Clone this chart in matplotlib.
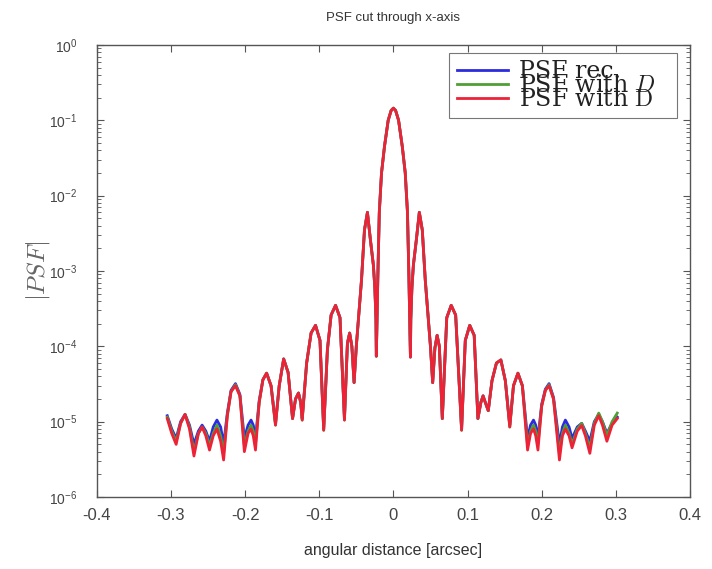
import matplotlib
matplotlib.use("Agg")
import matplotlib.pyplot as plt
from matplotlib.ticker import LogLocator, NullFormatter, FixedLocator

# ---- data ----
x = [-0.305, -0.299, -0.293, -0.287, -0.281, -0.275, -0.269, -0.263, -0.258, -0.253,
     -0.248, -0.243, -0.238, -0.233, -0.229, -0.224, -0.219, -0.213, -0.207, -0.201,
     -0.196, -0.192, -0.189, -0.186, -0.181, -0.176, -0.171, -0.165, -0.159, -0.154,
     -0.148, -0.142, -0.136, -0.132, -0.128, -0.125, -0.123, -0.117, -0.111, -0.105,
     -0.099, -0.094, -0.089, -0.084, -0.078, -0.072, -0.066, -0.062, -0.059, -0.056,
     -0.053, -0.050, -0.043, -0.039, -0.035, -0.031, -0.027, -0.025, -0.0235, -0.023,
     -0.021, -0.019, -0.016, -0.012, -0.007, -0.003, 0.0,
     0.003, 0.007, 0.012, 0.016, 0.019, 0.021, 0.023, 0.0235, 0.025, 0.027,
     0.031, 0.035, 0.039, 0.043, 0.050, 0.053, 0.056, 0.059, 0.062, 0.066,
     0.072, 0.078, 0.084, 0.092, 0.097, 0.103, 0.109, 0.114, 0.118, 0.121,
     0.124, 0.128, 0.133, 0.139, 0.145, 0.151, 0.157, 0.162, 0.168, 0.174,
     0.181, 0.185, 0.189, 0.192, 0.195, 0.200, 0.205, 0.210, 0.216, 0.224,
     0.228, 0.232, 0.237, 0.241, 0.248, 0.254, 0.259, 0.265, 0.271, 0.277,
     0.282, 0.288, 0.295, 0.302]

psf_rec = [1.2e-5, 8.0e-6, 6.0e-6, 1.0e-5, 1.25e-5, 9.0e-6, 5.0e-6, 7.5e-6, 9.0e-6, 7.5e-6,
           5.5e-6, 8.5e-6, 1.05e-5, 8.5e-6, 5.0e-6, 1.3e-5, 2.6e-5, 3.2e-5, 2.3e-5, 6.0e-6,
           9.0e-6, 1.05e-5, 9.0e-6, 6.0e-6, 1.9e-5, 3.6e-5, 4.4e-5, 3.0e-5, 9.5e-6, 3.0e-5,
           6.8e-5, 4.5e-5, 1.1e-5, 2.0e-5, 2.4e-5, 1.8e-5, 1.1e-5, 6.0e-5, 1.5e-4, 1.9e-4,
           1.2e-4, 8.0e-6, 9.0e-5, 2.6e-4, 3.5e-4, 2.4e-4, 1.1e-5, 1.1e-4, 1.5e-4, 1.0e-4,
           3.3e-5, 1.0e-4, 7.6e-4, 3.5e-3, 6.0e-3, 2.6e-3, 1.2e-3, 6.0e-4, 2.3e-4, 7.4e-5,
           8.0e-4, 6.0e-3, 2.0e-2, 4.5e-2, 1.0e-1, 1.35e-1, 1.45e-1,
           1.35e-1, 1.0e-1, 4.5e-2, 2.0e-2, 6.0e-3, 8.0e-4, 7.2e-5, 2.3e-4, 6.0e-4, 1.2e-3,
           2.6e-3, 6.0e-3, 3.5e-3, 7.6e-4, 1.0e-4, 3.3e-5, 9.5e-5, 1.4e-4, 1.0e-4, 1.1e-5,
           2.4e-4, 3.5e-4, 2.6e-4, 8.0e-6, 1.2e-4, 1.9e-4, 1.4e-4, 1.1e-5, 1.8e-5, 2.2e-5,
           1.8e-5, 1.4e-5, 3.5e-5, 6.0e-5, 6.6e-5, 3.5e-5, 9.0e-6, 3.0e-5, 4.4e-5, 3.0e-5,
           6.0e-6, 9.0e-6, 1.05e-5, 9.0e-6, 6.0e-6, 1.7e-5, 2.7e-5, 3.2e-5, 2.1e-5, 5.0e-6,
           8.5e-6, 1.05e-5, 8.5e-6, 6.0e-6, 8.5e-6, 9.5e-6, 7.5e-6, 5.5e-6, 1.0e-5, 1.25e-5,
           1.0e-5, 7.0e-6, 9.5e-6, 1.15e-5]

psf_D_it = [1.15e-5, 7.5e-6, 5.5e-6, 9.5e-6, 1.25e-5, 8.5e-6, 4.0e-6, 7.0e-6, 8.5e-6, 7.0e-6,
            4.8e-6, 7.0e-6, 9.0e-6, 6.5e-6, 3.8e-6, 1.2e-5, 2.5e-5, 3.1e-5, 2.2e-5, 4.8e-6,
            7.5e-6, 9.0e-6, 7.5e-6, 5.0e-6, 1.8e-5, 3.6e-5, 4.4e-5, 3.0e-5, 9.0e-6, 3.0e-5,
            6.8e-5, 4.5e-5, 1.1e-5, 2.0e-5, 2.4e-5, 1.8e-5, 1.05e-5, 6.0e-5, 1.5e-4, 1.9e-4,
            1.2e-4, 7.7e-6, 9.0e-5, 2.6e-4, 3.5e-4, 2.4e-4, 1.05e-5, 1.1e-4, 1.5e-4, 1.0e-4,
            3.3e-5, 1.0e-4, 7.6e-4, 3.5e-3, 6.0e-3, 2.6e-3, 1.2e-3, 6.0e-4, 2.3e-4, 7.4e-5,
            8.0e-4, 6.0e-3, 2.0e-2, 4.5e-2, 1.0e-1, 1.35e-1, 1.45e-1,
            1.35e-1, 1.0e-1, 4.5e-2, 2.0e-2, 6.0e-3, 8.0e-4, 7.2e-5, 2.3e-4, 6.0e-4, 1.2e-3,
            2.6e-3, 6.0e-3, 3.5e-3, 7.6e-4, 1.0e-4, 3.3e-5, 9.5e-5, 1.4e-4, 1.0e-4, 1.1e-5,
            2.4e-4, 3.5e-4, 2.6e-4, 7.7e-6, 1.2e-4, 1.9e-4, 1.4e-4, 1.1e-5, 1.8e-5, 2.2e-5,
            1.8e-5, 1.4e-5, 3.5e-5, 6.0e-5, 6.6e-5, 3.5e-5, 8.5e-6, 3.0e-5, 4.4e-5, 3.0e-5,
            4.8e-6, 7.5e-6, 9.0e-6, 7.5e-6, 5.0e-6, 1.6e-5, 2.6e-5, 3.1e-5, 2.0e-5, 3.8e-6,
            7.0e-6, 9.0e-6, 7.0e-6, 5.0e-6, 8.0e-6, 9.5e-6, 7.0e-6, 4.5e-6, 9.5e-6, 1.3e-5,
            1.0e-5, 6.5e-6, 1.0e-5, 1.3e-5]

psf_D = [1.1e-5, 7.0e-6, 5.0e-6, 9.5e-6, 1.25e-5, 8.0e-6, 3.5e-6, 7.0e-6, 8.5e-6, 6.5e-6,
         4.2e-6, 6.5e-6, 8.0e-6, 5.5e-6, 3.1e-6, 1.2e-5, 2.5e-5, 3.0e-5, 2.2e-5, 4.0e-6,
         7.0e-6, 8.0e-6, 6.5e-6, 4.2e-6, 1.8e-5, 3.6e-5, 4.4e-5, 3.0e-5, 9.0e-6, 3.0e-5,
         6.8e-5, 4.5e-5, 1.1e-5, 2.0e-5, 2.4e-5, 1.8e-5, 1.05e-5, 6.0e-5, 1.5e-4, 1.9e-4,
         1.2e-4, 7.7e-6, 9.0e-5, 2.6e-4, 3.5e-4, 2.4e-4, 1.05e-5, 1.1e-4, 1.5e-4, 1.0e-4,
         3.3e-5, 1.0e-4, 7.6e-4, 3.5e-3, 6.0e-3, 2.6e-3, 1.2e-3, 6.0e-4, 2.3e-4, 7.4e-5,
         8.0e-4, 6.0e-3, 2.0e-2, 4.5e-2, 1.0e-1, 1.35e-1, 1.45e-1,
         1.35e-1, 1.0e-1, 4.5e-2, 2.0e-2, 6.0e-3, 8.0e-4, 7.2e-5, 2.3e-4, 6.0e-4, 1.2e-3,
         2.6e-3, 6.0e-3, 3.5e-3, 7.6e-4, 1.0e-4, 3.3e-5, 9.5e-5, 1.4e-4, 1.0e-4, 1.1e-5,
         2.4e-4, 3.5e-4, 2.6e-4, 7.7e-6, 1.2e-4, 1.9e-4, 1.4e-4, 1.1e-5, 1.8e-5, 2.2e-5,
         1.8e-5, 1.4e-5, 3.5e-5, 6.0e-5, 6.6e-5, 3.5e-5, 8.5e-6, 3.0e-5, 4.4e-5, 3.0e-5,
         4.2e-6, 7.0e-6, 8.0e-6, 6.5e-6, 4.2e-6, 1.6e-5, 2.6e-5, 3.0e-5, 2.0e-5, 3.1e-6,
         6.5e-6, 8.0e-6, 6.5e-6, 4.5e-6, 7.5e-6, 8.9e-6, 6.5e-6, 3.8e-6, 9.0e-6, 1.2e-5,
         9.0e-6, 5.5e-6, 9.0e-6, 1.1e-5]

series_labels = ["PSF rec.", r"PSF with $\mathit{D}$", r"PSF with $\mathrm{D}$"]
series_colors = ["#2b2be0", "#4f9f35", "#ee2236"]
title = "PSF cut through x-axis"
xlabel = "angular distance [arcsec]"
ylabel = r"$|PSF|$"
xticks = [-0.4, -0.3, -0.2, -0.1, 0, 0.1, 0.2, 0.3, 0.4]
xticklabels = ["-0.4", "-0.3", "-0.2", "-0.1", "0", "0.1", "0.2", "0.3", "0.4"]

# ---- figure ----
plt.rcParams['font.family'] = ['Liberation Sans', 'DejaVu Sans']
plt.rcParams['mathtext.fontset'] = 'cm'
fig = plt.figure(figsize=(7.12, 5.69), dpi=100)
ax = fig.add_axes([0.136, 0.1265, 0.833, 0.7945])

handles = []
for ys, lab, col in zip([psf_rec, psf_D_it, psf_D], series_labels, series_colors):
    h, = ax.plot(x, ys, color=col, lw=2.0, label=lab, solid_joinstyle='round')
    handles.append(h)

ax.set_yscale('log')
ax.set_xlim(-0.4, 0.4)
ax.set_ylim(1e-6, 1e0)
ax.xaxis.set_major_locator(FixedLocator(xticks))
ax.set_xticklabels(xticklabels)
ax.yaxis.set_major_locator(LogLocator(base=10, numticks=10))
ax.yaxis.set_minor_locator(LogLocator(base=10, subs=range(2, 10), numticks=20))
ax.yaxis.set_minor_formatter(NullFormatter())
ax.tick_params(which='both', direction='in', top=True, right=True, colors='#555555',
               labelcolor='#444444')
ax.tick_params(axis='x', which='major', length=5, pad=8, labelsize=12)
ax.tick_params(axis='y', which='major', length=5, pad=14, labelsize=10)
ax.tick_params(which='minor', length=3)
for s in ax.spines.values():
    s.set_color('#555555')
    s.set_linewidth(1.0)

ax.set_title(title, fontsize=9.5, color='#333333', pad=17)
ax.set_xlabel(xlabel, fontsize=11.5, color='#333333', labelpad=14)
ax.set_ylabel(ylabel, fontsize=18, color='#666666', labelpad=-2)

legend_labels = [series_labels[0], series_labels[1], series_labels[2] + "   "]
leg = ax.legend(handles, legend_labels, loc='upper right', bbox_to_anchor=(0.9865, 0.993),
                frameon=True, fancybox=False, edgecolor='#777777', framealpha=1.0,
                prop={'family': 'DejaVu Serif', 'size': 17},
                labelspacing=-0.38, handlelength=2.2, handletextpad=0.45,
                borderpad=0.3, borderaxespad=0.2)
leg.get_frame().set_linewidth(0.8)
for t in leg.get_texts():
    t.set_color('#222222')

fig.savefig("out.png", dpi=100)
